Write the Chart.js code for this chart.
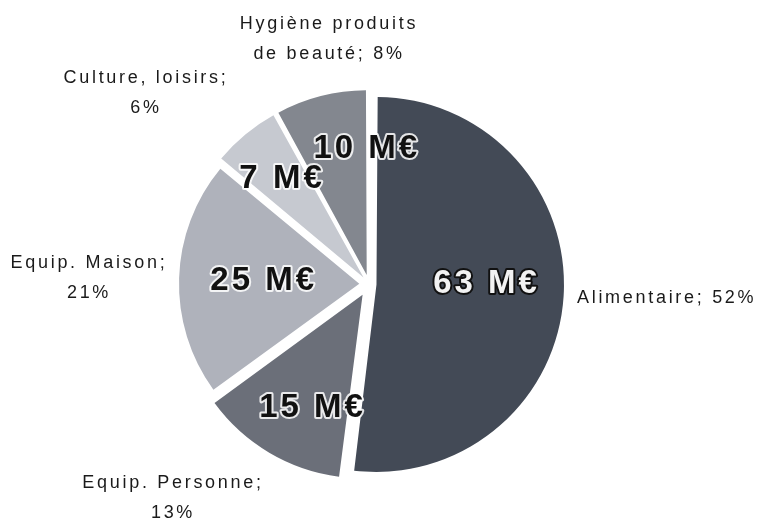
<!DOCTYPE html>
<html><head><meta charset="utf-8">
<script src="https://cdn.jsdelivr.net/npm/chart.js@4.4.1/dist/chart.umd.min.js"></script>
<style>html,body{margin:0;padding:0;background:#fff}#wrap{width:760px;height:520px}</style>
</head><body><div id="wrap"><canvas id="c" width="760" height="520"></canvas></div>
<script>
const categories = ["Alimentaire", "Equip. Personne", "Equip. Maison", "Culture, loisirs", "Hygiène produits de beauté"];
const labelLines = [["Alimentaire; 52%"], ["Equip. Personne;", "13%"], ["Equip. Maison;", "21%"], ["Culture, loisirs;", "6%"], ["Hygiène produits", "de beauté; 8%"]];
const amounts = [63, 15, 25, 7, 10];
const percents = [52, 13, 21, 6, 8];
const valueLabels = ["63 M€", "15 M€", "25 M€", "7 M€", "10 M€"];

const colors = ["#434a56", "#6b6f79", "#afb2bb", "#c6c9d0", "#83878f"];

// desired explode distance in px per slice
const explodePx = [15, 16, 10, 14, 14];
// outer label anchor: [x, y, align]
const outerPos = [[577, 298, "left"], [173, 483, "center"], [89, 263, "center"], [146, 78, "center"], [329, 24, "center"]];
const valueFrac = [0.57, 0.67, 0.53, 0.68, 0.675];
const valueAngleShift = [-4, -7, 0, 0, 15];

const total = percents.reduce((a, b) => a + b, 0);
// Chart.js ArcElement translates by offset/4 * (2 - sin(min(PI, circumference)))
const offsets = percents.map((v, i) => {
  const circ = v / total * 2 * Math.PI;
  const k = (2 - Math.sin(Math.min(Math.PI, circ))) / 4;
  return explodePx[i] / k;
});

const labelPlugin = {
  id: "labels",
  afterDatasetsDraw(chart) {
    const ctx = chart.ctx;
    const meta = chart.getDatasetMeta(0);
    ctx.save();
    ctx.textBaseline = "middle";
    meta.data.forEach((arc, i) => {
      const p = arc.getProps(["x", "y", "startAngle", "endAngle", "outerRadius"], true);
      const mid = (p.startAngle + p.endAngle) / 2;
      const cx = p.x + Math.cos(mid) * explodePx[i];
      const cy = p.y + Math.sin(mid) * explodePx[i];
      const r = p.outerRadius * valueFrac[i];
      const a = mid + valueAngleShift[i] * Math.PI / 180;
      const x = cx + Math.cos(a) * r;
      const y = cy + Math.sin(a) * r;
      ctx.font = "bold 33px 'Liberation Sans', Arial, sans-serif";
      ctx.letterSpacing = "3px";
      ctx.textAlign = "center";
      ctx.lineJoin = "round";
      if (i === 0) {
        ctx.lineWidth = 4; ctx.strokeStyle = "#111"; ctx.strokeText(valueLabels[i], x, y);
        ctx.fillStyle = "#f2f2f2"; ctx.fillText(valueLabels[i], x, y);
      } else {
        ctx.lineWidth = 4; ctx.strokeStyle = "rgba(255,255,255,0.85)"; ctx.strokeText(valueLabels[i], x, y);
        ctx.fillStyle = "#111"; ctx.fillText(valueLabels[i], x, y);
      }
      ctx.font = "18px 'Liberation Sans', Arial, sans-serif";
      ctx.letterSpacing = "2.7px";
      ctx.fillStyle = "#1a1a1a";
      const [ox, oy, al] = outerPos[i];
      ctx.textAlign = al;
      labelLines[i].forEach((ln, k) => ctx.fillText(ln, ox, oy + k * 30));
    });
    ctx.restore();
  }
};

new Chart(document.getElementById("c"), {
  type: "pie",
  data: {
    labels: categories,
    datasets: [{
      data: percents,
      backgroundColor: colors,
      borderWidth: 0,
      offset: offsets
    }]
  },
  options: {
    responsive: false,
    animation: false,
    radius: 180,
    layout: { padding: { left: 0, right: 22, top: 48, bottom: 0 } },
    plugins: { legend: { display: false }, tooltip: { enabled: false } }
  },
  plugins: [labelPlugin]
});
</script>
</body></html>
